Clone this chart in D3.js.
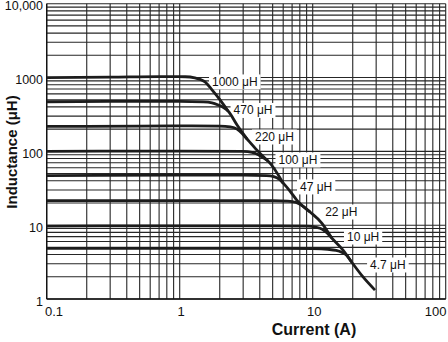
<!DOCTYPE html>
<html>
<head>
<meta charset="utf-8">
<script src="https://cdn.jsdelivr.net/npm/d3@7"></script>
<style>
  html, body { margin: 0; padding: 0; background: #fff; }
  svg { display: block; }
  text { font-family: "Liberation Sans", Arial, Helvetica, sans-serif; fill: #111; }
</style>
</head>
<body>
<svg id="chart" width="448" height="342"></svg>
<script>
// Inductance vs. current, one curve per nominal inductance value
const seriesNames = ["1000 μH", "470 μH", "220 μH", "100 μH", "47 μH", "22 μH", "10 μH", "4.7 μH"];

// [current (A), inductance (μH)]
const curve1000 = [[0.1,1000],[0.3,1010],[0.7,1030],[1.1,1025],[1.3,990],[1.45,930],[1.55,871],[1.75,679],[2.01,497],[2.31,352]];
const curve470  = [[0.1,470],[0.5,475],[1.0,475],[1.5,468],[1.75,455],[1.95,425],[2.15,390],[2.31,352],[2.70,228],[3.21,147]];
const curve220  = [[0.1,218],[0.5,220],[1.0,222],[2.0,220],[2.4,214],[2.7,200],[2.95,175],[3.21,147],[3.81,104],[4.61,74]];
const curve100  = [[0.1,100],[1.0,101],[3.0,100],[3.5,97],[3.9,90],[4.25,82],[4.61,74],[5.98,37.3]];
const curve47   = [[0.1,47],[1.0,47.5],[3.0,47.5],[4.5,47],[5.1,45.5],[5.6,42],[6.1,36],[6.75,29],[7.59,21.9],[9.55,15.1]];
const curve22   = [[0.1,21.5],[1.0,21.5],[5.0,21.5],[6.5,21.2],[7.5,20.3],[8.5,18],[9.55,15.1],[11.7,10.7],[13.9,6.7]];
const curve10   = [[0.1,9.7],[1.0,9.8],[5.0,9.8],[9.0,9.7],[10.5,9.4],[11.8,8.8],[12.9,7.8],[13.9,6.7],[16.9,4.6],[19.6,3.17]];
const curve4p7  = [[0.1,4.85],[1.0,4.85],[5.0,4.85],[10,4.8],[13,4.7],[15,4.55],[16.5,4.3],[18,3.9],[19.6,3.17],[23.9,1.99],[29.4,1.32]];
const seriesData = [curve1000, curve470, curve220, curve100, curve47, curve22, curve10, curve4p7];

// Where each curve label sits: [current (A), inductance (μH)] at the text's left baseline
const labelAnchors = [[1.75,769],[2.54,316],[3.68,138],[5.53,67.5],[8.03,29.1],[12.4,13.3],[18.1,6.1],[27.0,2.55]];

// Axis ticks
const xTickValues = [0.1, 1, 10, 100];
const xTickLabels = ["0.1", "1", "10", "100"];
const yTickValues = [1, 10, 100, 1000, 10000];
const yTickLabels = ["1", "10", "100", "1000", "10,000"];

const svg = d3.select("#chart");
const plotL = 46.7, plotR = 445.7, plotT = 3.7, plotB = 299;

const x = d3.scaleLog().domain([0.1, 100]).range([plotL, plotR]);
const y = d3.scaleLog().domain([1, 10000]).range([plotB, plotT]);

// Grid: 1..9 in every decade
const gridX = [];
for (let e = -1; e <= 1; e++) for (let m = 1; m <= 9; m++) gridX.push(m * Math.pow(10, e));
gridX.push(100);
const gridY = [];
for (let e = 0; e <= 3; e++) for (let m = 1; m <= 9; m++) gridY.push(m * Math.pow(10, e));
gridY.push(10000);

const grid = svg.append("g").attr("stroke", "#262626").attr("stroke-width", 1.1);
grid.selectAll("line.v").data(gridX).join("line").attr("class", "v")
  .attr("x1", d => x(d)).attr("x2", d => x(d))
  .attr("y1", plotT).attr("y2", plotB);
grid.selectAll("line.h").data(gridY).join("line").attr("class", "h")
  .attr("y1", d => y(d)).attr("y2", d => y(d))
  .attr("x1", plotL).attr("x2", plotR);

// Frame along left and bottom
svg.append("line").attr("x1", plotL).attr("x2", plotL).attr("y1", plotT).attr("y2", plotB)
  .attr("stroke", "#111").attr("stroke-width", 1.3);
svg.append("line").attr("x1", plotL).attr("x2", plotR).attr("y1", plotB).attr("y2", plotB)
  .attr("stroke", "#111").attr("stroke-width", 1.3);

// Curve labels; their white backgrounds are measured from the text itself
const labelLayer = svg.append("g");
const labels = labelLayer.selectAll("text").data(seriesNames).join("text")
  .attr("x", (d, i) => x(labelAnchors[i][0]))
  .attr("y", (d, i) => y(labelAnchors[i][1]))
  .attr("font-size", 12)
  .text(d => d);
const boxes = [];
labels.each(function() { boxes.push(this.getBBox()); });
svg.insert("g", () => labelLayer.node()).selectAll("rect").data(boxes).join("rect")
  .attr("x", b => b.x - 3).attr("y", b => b.y - 0.5)
  .attr("width", b => b.width + 6).attr("height", b => b.height + 1)
  .attr("fill", "#fff");

// Curves
const line = d3.line().x(d => x(d[0])).y(d => y(d[1])).curve(d3.curveMonotoneX);
svg.insert("g", () => labelLayer.node()).selectAll("path").data(seriesData).join("path")
  .attr("d", line)
  .attr("fill", "none")
  .attr("stroke", "#1c1c1c")
  .attr("stroke-width", 2.8)
  .attr("stroke-linejoin", "round");

// Tick labels
svg.append("g").selectAll("text").data(yTickValues).join("text")
  .attr("x", 43).attr("y", d => y(d) + 6.5)
  .attr("text-anchor", "end").attr("font-size", 12.5)
  .text((d, i) => yTickLabels[i]);
svg.append("g").selectAll("text").data(xTickValues).join("text")
  .attr("x", (d, i) => i === 0 ? 45 : i === xTickValues.length - 1 ? 446.5 : x(d) + 1.5)
  .attr("y", 316)
  .attr("text-anchor", (d, i) => i === 0 ? "start" : i === xTickValues.length - 1 ? "end" : "middle")
  .attr("font-size", 13)
  .text((d, i) => xTickLabels[i]);

// Axis titles
svg.append("text").attr("x", 314).attr("y", 335)
  .attr("text-anchor", "middle").attr("font-size", 16).attr("font-weight", "bold")
  .text("Current (A)");
svg.append("text").attr("transform", "translate(17,152) rotate(-90)")
  .attr("text-anchor", "middle").attr("font-size", 15).attr("font-weight", "bold")
  .text("Inductance (μH)");
</script>
</body>
</html>
